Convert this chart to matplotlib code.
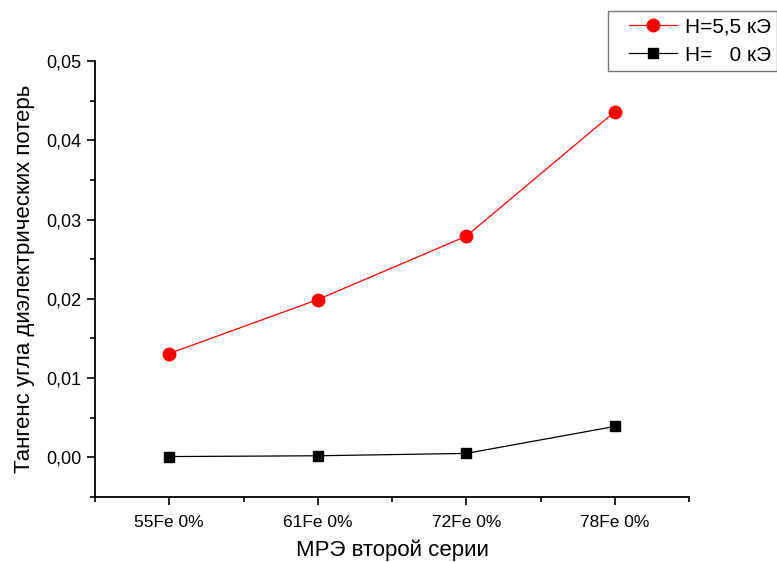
import matplotlib
matplotlib.use("Agg")
import matplotlib.pyplot as plt
from matplotlib.ticker import FuncFormatter, MultipleLocator, FixedLocator
from matplotlib.legend_handler import HandlerLine2D

plt.rcParams['font.family'] = ['Liberation Sans', 'DejaVu Sans']

# Data
categories = ["55Fe 0%", "61Fe 0%", "72Fe 0%", "78Fe 0%"]
h55 = [0.0131, 0.0199, 0.0279, 0.0436]
h0 = [0.0001, 0.0002, 0.0005, 0.0039]

x = list(range(1, len(categories) + 1))


# legend handle with some blank space before the line
class ShiftedLine(HandlerLine2D):
    def create_artists(self, legend, orig_handle, xdescent, ydescent, width, height, fontsize, trans):
        gap = 0.7 * fontsize
        return super().create_artists(legend, orig_handle, xdescent - gap, ydescent,
                                      width - gap, height, fontsize, trans)


fig = plt.figure(figsize=(7.77, 5.62), dpi=100)
ax = fig.add_axes([95 / 777, 1 - 497 / 562, (689 - 95) / 777, (497 - 61) / 562])

l1, = ax.plot(x, h55, color="red", lw=0.9, marker="o", markersize=9, label="H=5,5 кЭ")
l2, = ax.plot(x, h0, color="black", lw=0.9, marker="s", markersize=7.5, label="H=   0 кЭ")

ax.set_xlim(0.5, 4.5)
ax.set_ylim(-0.005, 0.05)

ax.spines["top"].set_visible(False)
ax.spines["right"].set_visible(False)
for s in ("left", "bottom"):
    ax.spines[s].set_linewidth(1.3)

ax.xaxis.set_major_locator(FixedLocator(x))
ax.set_xticklabels(categories)
ax.xaxis.set_minor_locator(FixedLocator([0.5, 1.5, 2.5, 3.5, 4.5]))
ax.yaxis.set_major_locator(FixedLocator([0, 0.01, 0.02, 0.03, 0.04, 0.05]))
ax.yaxis.set_minor_locator(MultipleLocator(0.005))
ax.yaxis.set_major_formatter(FuncFormatter(lambda v, p: f"{v:.2f}".replace(".", ",")))

ax.tick_params(which="major", direction="out", length=6, width=1.2)
ax.tick_params(which="minor", direction="out", length=3.5, width=1.2)
ax.tick_params(axis="y", labelsize=13)
ax.tick_params(axis="x", labelsize=12.5, pad=7)

ax.set_xlabel("МРЭ второй серии", fontsize=16, labelpad=7)
ax.set_ylabel("Тангенс угла диэлектрических потерь", fontsize=16, labelpad=8)

leg = fig.legend(handles=[l1, l2], loc="upper left", bbox_to_anchor=(608 / 777, 1 - 11 / 562),
                 fontsize=15, frameon=True, fancybox=False, edgecolor="#555555",
                 borderpad=0.3, handlelength=3.0, handletextpad=0.4, labelspacing=0.45,
                 borderaxespad=0, handler_map={matplotlib.lines.Line2D: ShiftedLine()})
leg.get_frame().set_linewidth(1.0)

fig.savefig("out.png", dpi=100)
